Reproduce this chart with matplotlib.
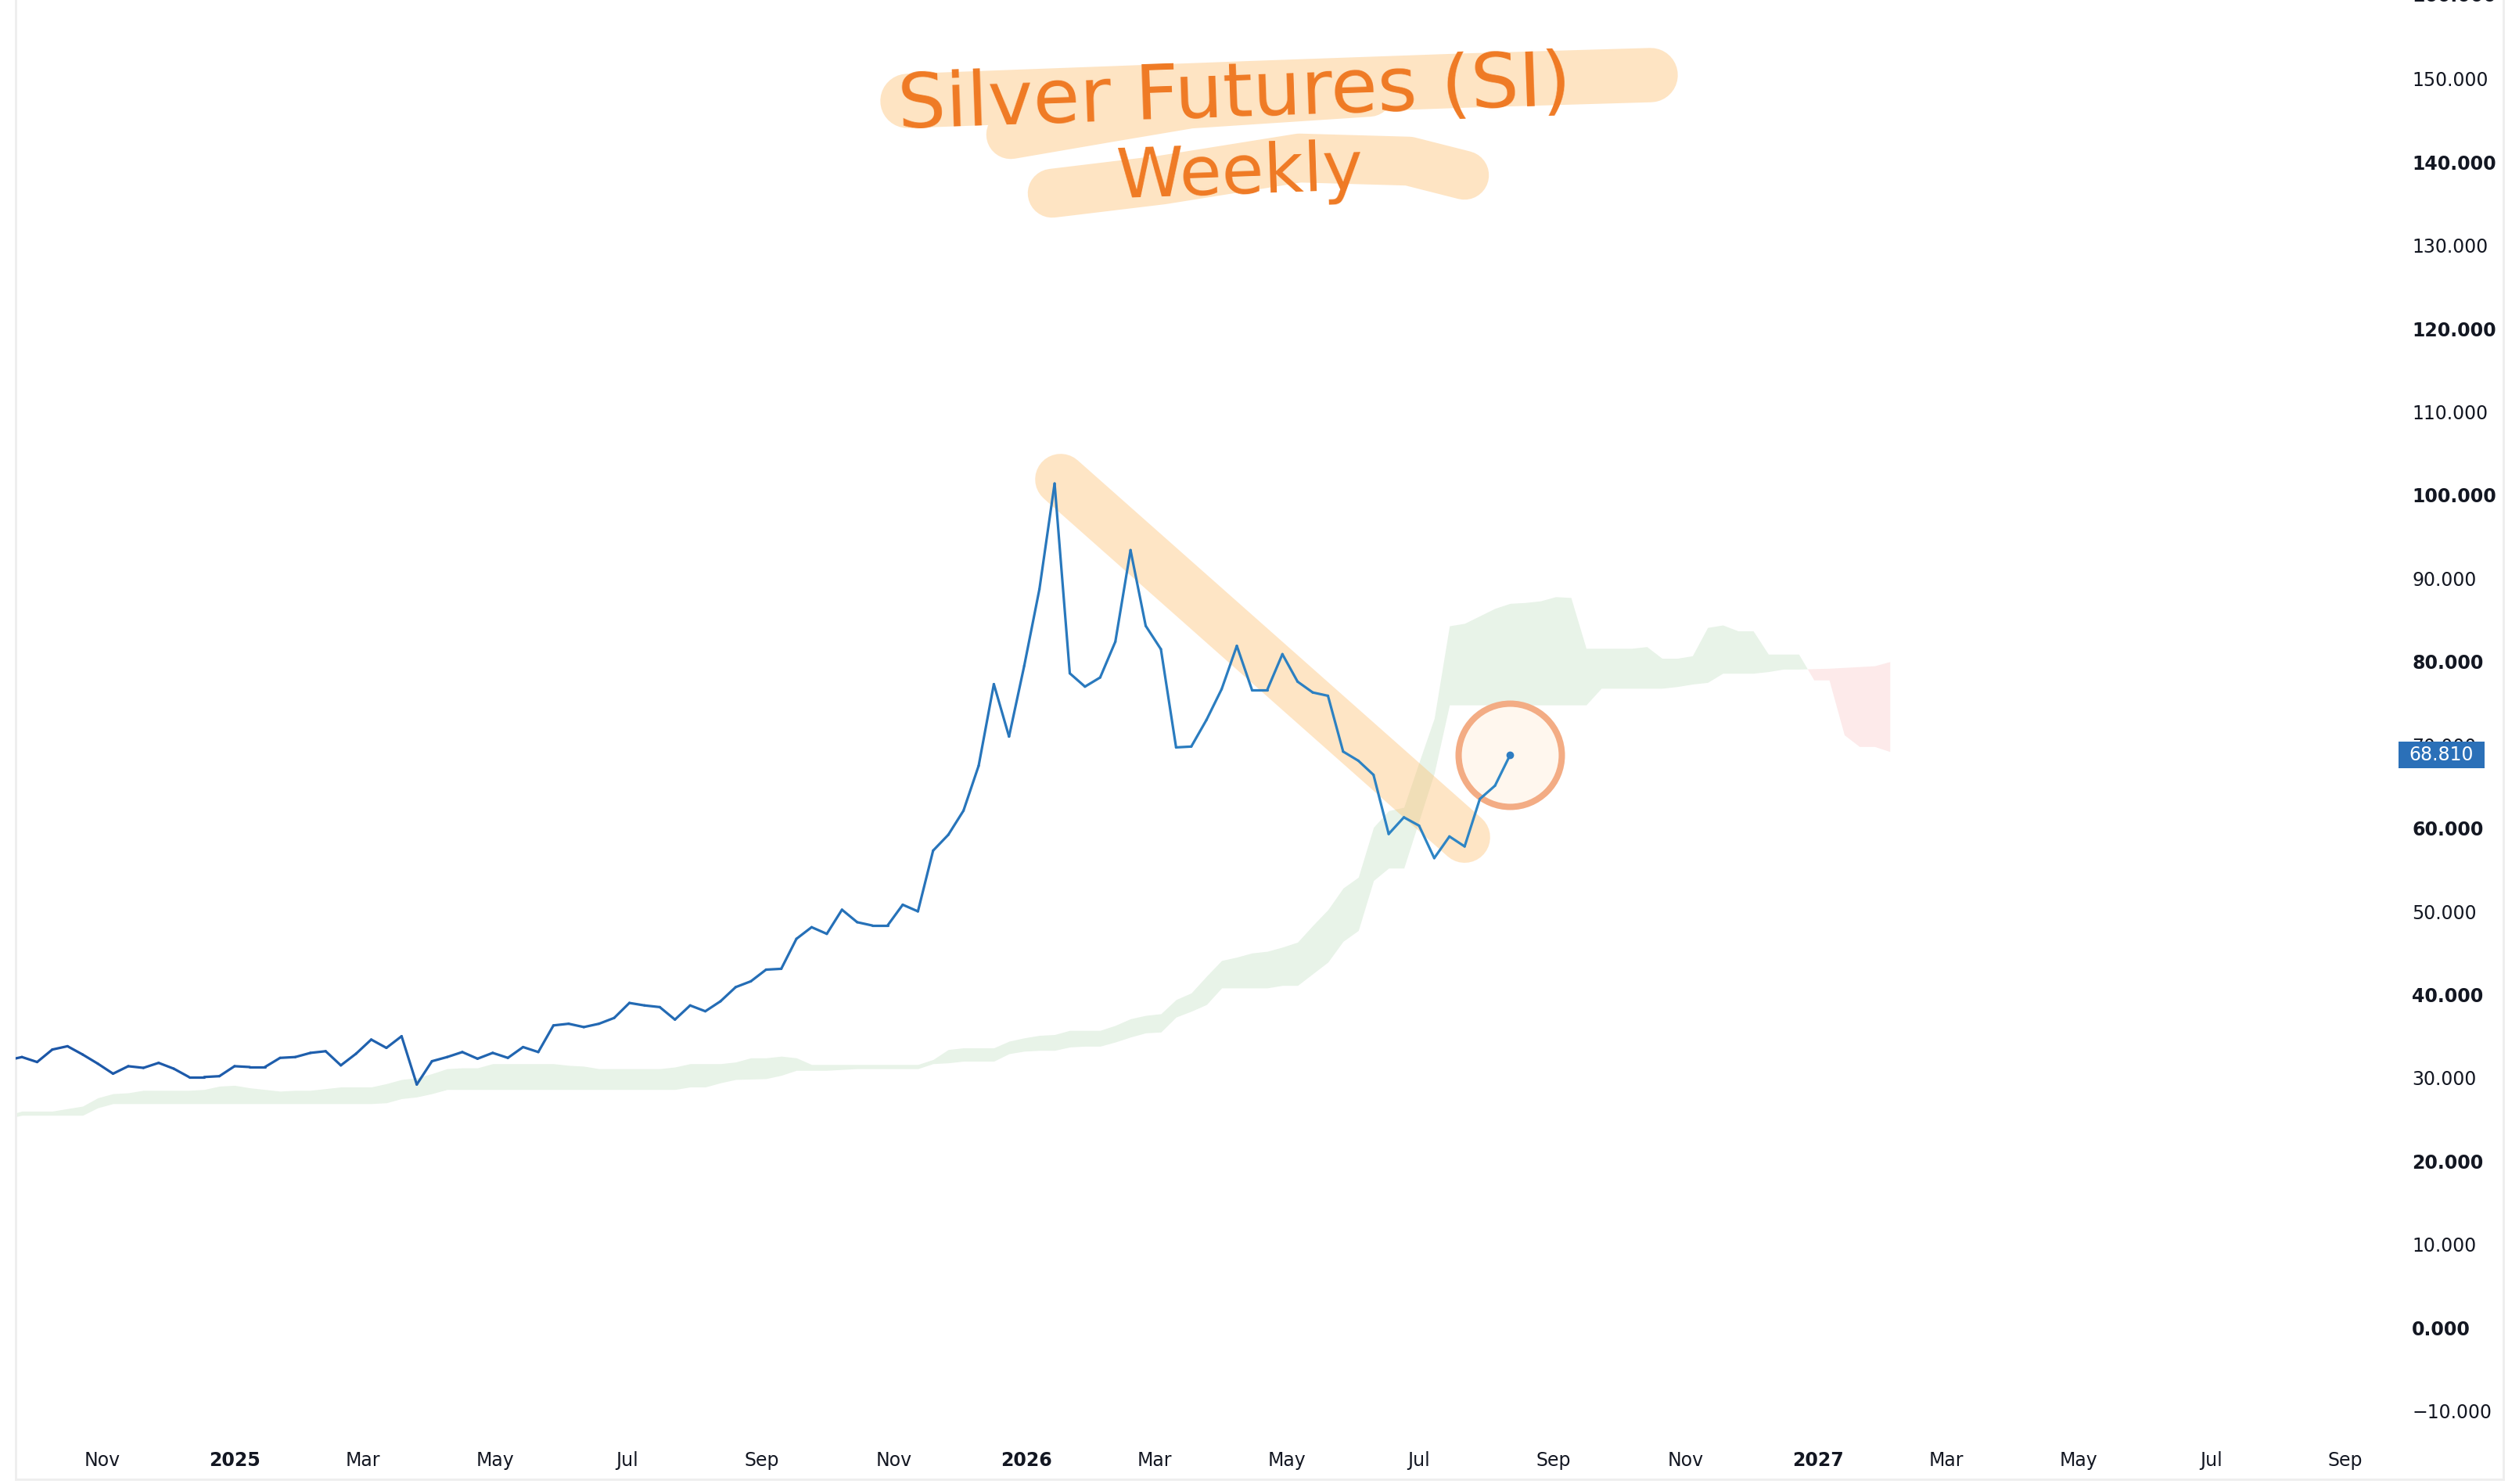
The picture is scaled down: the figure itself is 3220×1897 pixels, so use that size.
import numpy as np
import pandas as pd
import matplotlib
matplotlib.use("Agg")
import matplotlib.pyplot as plt
import matplotlib.dates as mdates
import matplotlib.transforms as mtransforms
from matplotlib.collections import LineCollection
from matplotlib.colors import to_rgb
from matplotlib.patches import Rectangle

# weekly closes, first bar 2024-09-18
close = [32.1, 32.5, 31.9, 33.4, 33.8, 32.8, 31.7, 30.5, 31.4, 31.2,
         31.8, 31.1, 30.1, 30.1, 30.2, 31.4, 31.3, 31.3, 32.4, 32.5,
         33.0, 33.2, 31.5, 32.9, 34.6, 33.6, 35.0, 29.2, 32.0, 32.5,
         33.1, 32.3, 33.0, 32.4, 33.7, 33.1, 36.3, 36.5, 36.1, 36.5,
         37.2, 39.0, 38.7, 38.5, 37.0, 38.7, 38.0, 39.2, 40.9, 41.6,
         43.0, 43.1, 46.7, 48.1, 47.3, 50.2, 48.7, 48.3, 48.3, 50.8,
         50.0, 57.3, 59.2, 62.1, 67.5, 77.3, 71.0, 79.5, 88.7, 101.4,
         78.6, 77.0, 78.1, 82.4, 93.4, 84.3, 81.5, 69.7, 69.8, 73.0,
         76.7, 81.9, 76.6, 76.6, 80.9, 77.6, 76.3, 75.9, 69.2, 68.1,
         66.4, 59.3, 61.3, 60.3, 56.4, 59.0, 57.8, 63.5, 65.1, 68.81]

# ichimoku cloud, same first week, projected 25 weeks past the last close
span_a = [25.5, 26.0, 26.0, 26.0, 26.3, 26.6, 27.6, 28.1, 28.2, 28.5,
          28.5, 28.5, 28.5, 28.6, 29.0, 29.1, 28.8, 28.6, 28.4, 28.5,
          28.5, 28.7, 28.9, 28.9, 28.9, 29.3, 29.8, 30.0, 30.5, 31.1,
          31.2, 31.2, 31.7, 31.7, 31.7, 31.7, 31.7, 31.5, 31.4, 31.1,
          31.1, 31.1, 31.1, 31.1, 31.3, 31.7, 31.7, 31.7, 31.9, 32.4,
          32.4, 32.6, 32.4, 31.6, 31.6, 31.6, 31.6, 31.6, 31.6, 31.6,
          31.6, 32.2, 33.4, 33.6, 33.6, 33.6, 34.4, 34.8, 35.1, 35.2,
          35.7, 35.7, 35.7, 36.3, 37.1, 37.5, 37.7, 39.4, 40.2, 42.2,
          44.1, 44.5, 45.0, 45.2, 45.7, 46.3, 48.3, 50.2, 52.8, 54.1,
          60.1, 62.1, 62.5, 67.9, 73.2, 84.3, 84.6, 85.5, 86.4, 87.0,
          87.1, 87.3, 87.8, 87.7, 81.6, 81.6, 81.6, 81.6, 81.8, 80.4,
          80.4, 80.7, 84.1, 84.4, 83.7, 83.7, 80.9, 80.9, 80.9, 77.8,
          77.8, 71.2, 69.8, 69.8, 69.2]
span_b = [25.1, 25.5, 25.5, 25.5, 25.5, 25.5, 26.4, 26.9, 26.9, 26.9,
          26.9, 26.9, 26.9, 26.9, 26.9, 26.9, 26.9, 26.9, 26.9, 26.9,
          26.9, 26.9, 26.9, 26.9, 26.9, 27.0, 27.5, 27.7, 28.1, 28.6,
          28.6, 28.6, 28.6, 28.6, 28.6, 28.6, 28.6, 28.6, 28.6, 28.6,
          28.6, 28.6, 28.6, 28.6, 28.6, 28.9, 28.9, 29.4, 29.8, 29.85,
          29.9, 30.3, 30.9, 30.9, 30.9, 31.0, 31.1, 31.1, 31.1, 31.1,
          31.1, 31.7, 31.8, 32.0, 32.0, 32.0, 32.9, 33.2, 33.3, 33.3,
          33.7, 33.8, 33.8, 34.3, 34.9, 35.4, 35.5, 37.3, 38.0, 38.8,
          40.8, 40.8, 40.8, 40.8, 41.1, 41.1, 42.5, 43.9, 46.4, 47.7,
          53.7, 55.2, 55.2, 60.9, 66.6, 74.8, 74.8, 74.8, 74.8, 74.8,
          74.8, 74.8, 74.8, 74.8, 74.8, 76.8, 76.8, 76.8, 76.8, 76.8,
          77.0, 77.3, 77.5, 78.6, 78.6, 78.6, 78.8, 79.1, 79.1, 79.15,
          79.2, 79.3, 79.4, 79.5, 80.0]

xtick_dates = ["2024-11-01", "2025-01-01", "2025-03-01", "2025-05-01", "2025-07-01",
               "2025-09-01", "2025-11-01", "2026-01-01", "2026-03-01", "2026-05-01",
               "2026-07-01", "2026-09-01", "2026-11-01", "2027-01-01", "2027-03-01",
               "2027-05-01", "2027-07-01", "2027-09-01"]
xtick_labels = ["Nov", "2025", "Mar", "May", "Jul", "Sep", "Nov", "2026", "Mar",
                "May", "Jul", "Sep", "Nov", "2027", "Mar", "May", "Jul", "Sep"]
ytick_values = list(range(-10, 151, 10))

# hand drawn trend stroke: (week index, price)
trend_idx = [68.4, 95.0]
trend_val = [101.9, 58.9]

start = pd.Timestamp("2024-09-18")
x_close = mdates.date2num(start + pd.to_timedelta(np.arange(len(close)) * 7, unit="D"))
x_cloud = mdates.date2num(start + pd.to_timedelta(np.arange(len(span_a)) * 7, unit="D"))
a = np.array(span_a)
b = np.array(span_b)
y = np.array(close)

W, H = 3220, 1897
fig = plt.figure(figsize=(W / 100, H / 100), dpi=100)
fig.patch.set_facecolor("white")
ax = fig.add_axes([20 / W, 6 / H, 3180 / W, 1891 / H])

jan25 = pd.Timestamp("2025-01-01")
ax.set_xlim(mdates.date2num(jan25 - pd.Timedelta(days=100.9)),
            mdates.date2num(jan25 + pd.Timedelta(days=1045.8)))
ax.set_ylim(-18.23, 159.49)

# cloud
ax.fill_between(x_cloud, a, b, where=a >= b, interpolate=True,
                color="#E8F3E8", lw=0, zorder=1)
ax.fill_between(x_cloud, a, b, where=a < b, interpolate=True,
                color="#FDEAEA", lw=0, zorder=1)

# highlighter stroke along the falling highs
t_x = mdates.date2num(start) + 7 * (np.array(trend_idx) + 1)
ax.plot(t_x, trend_val, color="#FDBF6F", alpha=0.4, lw=47,
        solid_capstyle="round", solid_joinstyle="round", zorder=2)

# circle around the last close
ax.plot(x_close[-1], y[-1], marker="o", ms=95, mfc="#FFF7EE", mec="#F3AC84",
        mew=5.8, zorder=3)

# price line with a slight colour drift
pts = np.column_stack([x_close, y])
segs = np.stack([pts[:-1], pts[1:]], axis=1)
c0 = np.array(to_rgb("#1B55A6"))
c1 = np.array(to_rgb("#2E86C6"))
tt = np.linspace(0, 1, len(segs))[:, None]
lc = LineCollection(segs, colors=c0 + (c1 - c0) * tt, linewidths=2.3,
                    capstyle="round", joinstyle="round", zorder=4)
ax.add_collection(lc)
ax.plot(x_close[-1], y[-1], "o", color="#2E7DC2", ms=6, zorder=5)

# axes look
ax.spines["top"].set_visible(False)
for side in ["left", "right", "bottom"]:
    ax.spines[side].set_color("#EEEEEE")
    ax.spines[side].set_linewidth(2)

ax.yaxis.tick_right()
ax.set_yticks(ytick_values)
ax.set_yticklabels([f"{v:.3f}".replace("-", "\u2212") for v in ytick_values])
for lab, v in zip(ax.get_yticklabels(), ytick_values):
    if v % 20 == 0:
        lab.set_fontweight("bold")
ax.tick_params(axis="y", length=0, pad=-84, labelsize=17, labelcolor="#131722")

ax.set_xticks(mdates.date2num(pd.to_datetime(xtick_dates)))
ax.set_xticklabels(xtick_labels)
for lab in ax.get_xticklabels():
    if lab.get_text().isdigit():
        lab.set_fontweight("bold")
ax.tick_params(axis="x", length=0, pad=-26, labelsize=17, labelcolor="#131722")

trans = mtransforms.blended_transform_factory(ax.transAxes, ax.transData)
ax.text(1 - 117 / 3180, 160, "160.000", transform=trans, ha="left", va="center",
        fontsize=17, fontweight="bold", color="#131722", clip_on=False)

# last price tag
ax.add_patch(Rectangle((3046 / 3180, y[-1] - 1.6), 110 / 3180, 3.2, transform=trans,
                       facecolor="#2B70B8", edgecolor="none", clip_on=False, zorder=6))
ax.text(3101 / 3180, y[-1], f"{close[-1]:.3f}", transform=trans, ha="center",
        va="center", fontsize=17, color="white", clip_on=False, zorder=7)

# handwritten title overlay in pixel space
ov = fig.add_axes([0, 0, 1, 1])
ov.set_xlim(0, W)
ov.set_ylim(H, 0)
ov.axis("off")
hl = "#FEE4C3"
ov.plot([1160, 1590, 1872, 2110], [129, 113, 103, 96], color=hl, lw=50,
        solid_capstyle="round", solid_joinstyle="round", zorder=1)
ov.plot([1292, 1420, 1521, 1750], [172, 150, 133, 118], color=hl, lw=45,
        solid_capstyle="round", solid_joinstyle="round", zorder=1)
ov.plot([1345, 1486, 1661, 1801, 1872], [247, 230, 202, 206, 224], color=hl, lw=45,
        solid_capstyle="round", solid_joinstyle="round", zorder=1)
ov.text(1578, 122, "Silver Futures (SI)", fontsize=70, color="#EF7A24",
        ha="center", va="center", rotation=2, zorder=3)
ov.text(1585, 224, "Weekly", fontsize=63, color="#EF7A24",
        ha="center", va="center", rotation=2, zorder=3)

fig.savefig("out.png", dpi=100, facecolor="white")
